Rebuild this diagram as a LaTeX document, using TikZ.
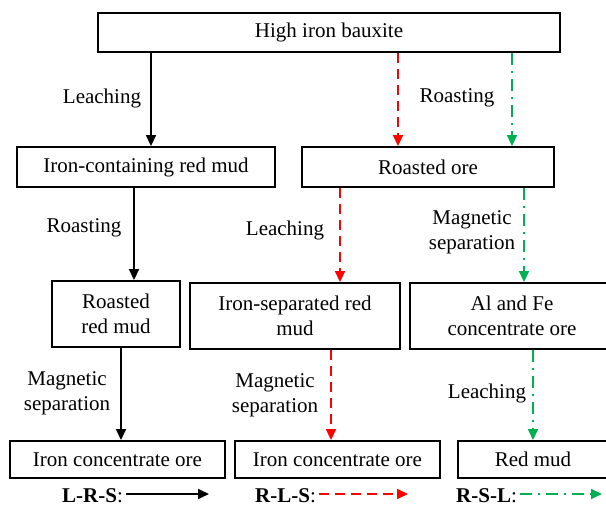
\documentclass[tikz,border=0pt]{standalone}
\usepackage{fontspec}
\setmainfont{Liberation Serif}
\usetikzlibrary{arrows.meta}
\definecolor{rslgreen}{RGB}{0,176,80}
\begin{document}
\begin{tikzpicture}[x=1pt,y=-1pt,font=\fontsize{21}{25}\selectfont,line join=miter,
  box/.style={draw,line width=1.9pt,inner sep=0pt,align=center},
  lbl/.style={align=center,inner sep=0pt},
  lrs/.style={line width=1.7pt,-{Triangle[length=11pt,width=10pt]}},
  rls/.style={lrs,red,dash pattern=on 10pt off 6pt},
  rsl/.style={lrs,rslgreen,dash pattern=on 12pt off 6pt on 2pt off 6pt}]
\useasboundingbox (0,0) rectangle (606,505);
% boxes
\node[box,minimum width=462pt,minimum height=39pt] (top) at (329,32.5) {High iron bauxite};
\node[box,minimum width=258pt,minimum height=40pt] (ironred) at (146,167) {Iron-containing red mud};
\node[box,minimum width=252pt,minimum height=40pt] (rore) at (428,167) {Roasted ore};
\node[box,minimum width=128pt,minimum height=66pt] (rrmud) at (116,314) {Roasted\\red mud};
\node[box,minimum width=210pt,minimum height=66pt] (isrm) at (295,316) {Iron-separated red\\mud};
\node[box,minimum width=204pt,minimum height=66pt] (alfe) at (512,316) {Al and Fe\\concentrate ore};
\node[box,minimum width=215pt,minimum height=37pt] (ico1) at (117.5,459.5) {Iron concentrate ore};
\node[box,minimum width=205pt,minimum height=37pt] (ico2) at (337.5,459.5) {Iron concentrate ore};
\node[box,minimum width=150pt,minimum height=37pt] (rmud) at (533,459.5) {Red mud};
% routes
\foreach \a/\b/\x/\s in {top/ironred/151/lrs,top/rore/398/rls,top/rore/512/rsl,
  ironred/rrmud/134/lrs,rore/isrm/340/rls,rore/alfe/524/rsl,
  rrmud/ico1/121/lrs,isrm/ico2/331/rls,alfe/rmud/533/rsl}
  \draw[\s] (\a.south -| \x,0) -- (\b.north -| \x,0);
% steps
\node[lbl] (l1) at (102,98) {Leaching};
\node[lbl] (l2) at (457,98) {Roasting};
\node[lbl] (l3) at (84,228) {Roasting};
\node[lbl] (l4) at (285,230) {Leaching};
\node[lbl] (l5) at (472,232) {Magnetic\\separation};
\node[lbl] (l6) at (67,393) {Magnetic\\separation};
\node[lbl] (l7) at (275,395) {Magnetic\\separation};
\node[lbl] (l8) at (487,393) {Leaching};
% legend
\foreach \n/\t/\x/\e/\s in {lgA/L-R-S/62/209/lrs,lgB/R-L-S/255/408/rls,lgC/R-S-L/456/602/rsl}{
  \node[lbl,anchor=base west] (\n) at (\x,502) {\textbf{\t}:};
  \coordinate (\n end) at (\e,494);
  \draw[\s,shorten <=3pt] (\n.east |- \n end) -- (\n end);
}
\end{tikzpicture}
\end{document}
